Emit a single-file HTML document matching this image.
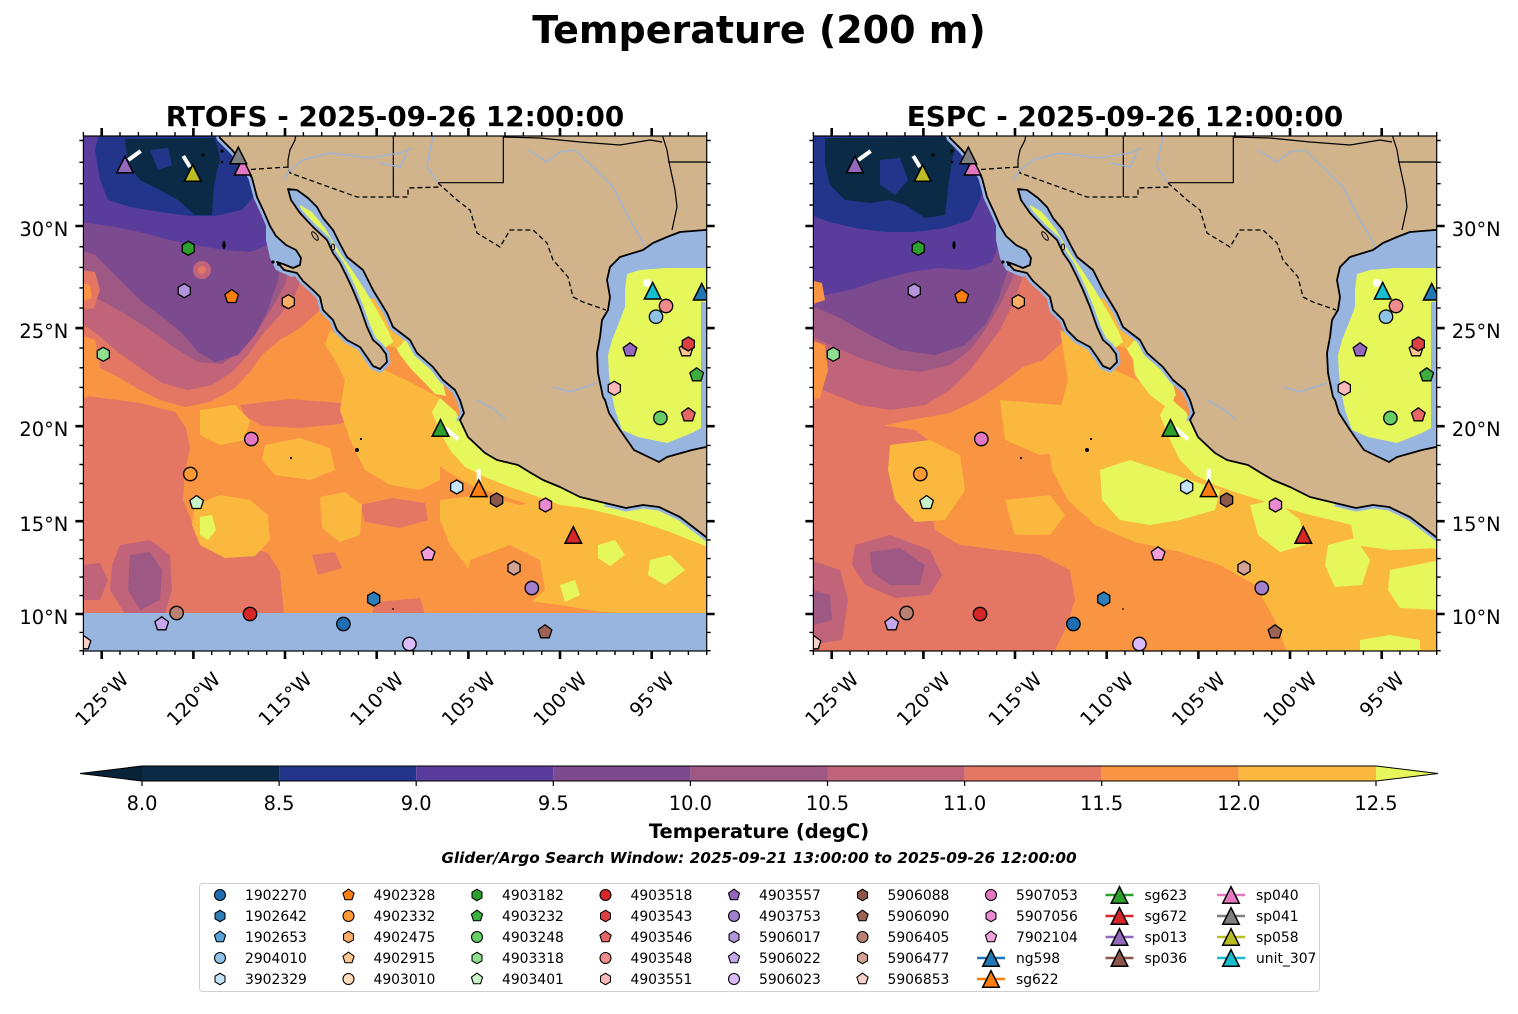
<!DOCTYPE html>
<html><head><meta charset="utf-8"><style>
html,body{margin:0;padding:0;background:#fff;}
svg{display:block;font-family:"DejaVu Sans","Liberation Sans",sans-serif;}
</style></head><body>
<svg width="1518" height="1014" viewBox="0 0 1518 1014" xmlns="http://www.w3.org/2000/svg">
<defs>
<clipPath id="cp"><rect x="83.4" y="136" width="623.3" height="515"/></clipPath>
<path id="mh" d="M0,-7 L6.06,-3.5 L6.06,3.5 L0,7 L-6.06,3.5 L-6.06,-3.5Z" stroke="#000" stroke-width="1.3"/>
<path id="mp" d="M0,-7.2 L6.85,-2.22 L4.23,5.82 L-4.23,5.82 L-6.85,-2.22Z" stroke="#000" stroke-width="1.3" stroke-linejoin="round"/>
<circle id="mo" r="6.7" stroke="#000" stroke-width="1.3"/>
<path id="mt" d="M0,-8.3 L8.3,8.3 L-8.3,8.3Z" stroke="#000" stroke-width="1.5"/>

<path id="landpath" d="M215,120 L220,138 L232,150 L243,163 L252,178 L257,197 L264,212 L270,226 L276,236 L286,245 L296,250 L301,258 L300,265 L293,268 L283,264 L277,262 L284,270 L297,273 L303,281 L313,290 L320,297 L323,310 L333,320 L337,330 L347,340 L360,347 L367,357 L373,366 L380,369 L387,362 L386,354 L380,346 L373,340 L367,327 L360,307 L353,290 L347,277 L340,263 L333,253 L327,240 L313,227 L300,213 L291,200 L288,189 L297,190 L308,198 L317,207 L323,218 L333,230 L340,244 L347,257 L363,270 L373,290 L387,313 L393,327 L410,340 L417,353 L433,367 L443,380 L455,390 L460,400 L464,413 L460,420 L468,437 L485,453 L497,460 L518,465 L531,473 L543,480 L560,487 L580,497 L605,503 L626,508 L643,505 L659,507 L680,517 L697,530 L706,537 L725,548 L725,120 Z"/>

<g id="landg">
 <path d="M282,183 L302,183 L325,205 L345,235 L365,262 L385,290 L398,312 L405,325 L392,332 L378,335 L365,320 L350,300 L335,275 L320,250 L305,225 L288,205 Z" fill="#98b5e0"/>
 <path d="M360,300 L375,298 L392,325 L405,340 L398,348 L385,345 L372,332 L362,315 Z" fill="#fab93e"/>
 <path d="M300,205 L312,212 L325,228 L338,250 L352,270 L365,290 L378,312 L388,330 L393,342 L385,348 L375,340 L365,322 L355,303 L345,283 L335,265 L322,245 L310,225 L300,212 Z" fill="#e5f75b"/>
 <path d="M266,224 L282,228 L297,244 L306,258 L306,272 L292,277 L276,270 L270,258 L266,240 Z" fill="#98b5e0"/>
 <use href="#landpath" fill="none" stroke="#98b5e0" stroke-width="7" stroke-linejoin="round"/>
 <path d="M460,420 L468,437 L485,453 L497,460 L518,465 L531,473 L543,480 L560,487 L580,497 L605,503" fill="none" stroke="#e5f75b" stroke-width="8"/>
 <use href="#landpath" fill="#d2b48c" stroke="#000" stroke-width="1.8" stroke-linejoin="round"/>
 <!-- Gulf of Mexico -->
 <path d="M725,228 L705,230 L680,232 L667,237 L653,243 L643,250 L633,253 L620,257 L610,267 L607,280 L610,297 L608,310 L602,320 L600,337 L597,353 L598,373 L603,397 L605,400 L609,413 L620,430 L634,450 L659,462 L667,457 L692,450 L706,447 L725,447 Z" fill="#98b5e0" stroke="#000" stroke-width="1.8" stroke-linejoin="round"/>
 <path d="M725,268 L665,268 L640,270 L627,274 L625,290 L625,307 L618,325 L612,340 L608,355 L609,375 L612,395 L615,410 L622,430 L638,437 L667,443 L692,433 L701,428 L701,302 L725,302 Z" fill="#e5f75b"/>
 <!-- borders -->
 <path d="M243,170 L288,167 L290,173 L357,197 L408,197 L408,188 L440,187 M438,183 L457,200 L470,210 L477,233 L500,247 L510,230 L533,230 L547,243 L553,260 L568,277 L573,297 L583,302 L606,310" fill="none" stroke="#000" stroke-width="1.3" stroke-dasharray="5,3"/>
 <path d="M297,128 L295,140 L290,150 L288,160 L288,168 M393.3,128 L393.3,197 M503.3,128 L503.3,182.7 L438.3,182.7 M660,128 L667,150 L669,162 L675,190 L677,207 L672,230 M668,162 L725,162 M503,137 L540,138 L580,142 L620,145 L650,140 L662,142" fill="none" stroke="#000" stroke-width="1.2"/>
 <!-- rivers -->
 <path d="M283,180 L290,170 L303,160 L330,153 L370,158 L400,153 L412,148 M380,163 L400,167 L407,153 M433,136 L430,150 L427,167 L438,183 M528,150 L547,162 L560,152 L575,150 L593,167 L613,187 L630,220 L640,237 L645,247 M553,387 L570,392 L597,383 M477,400 L495,410 L506,420" fill="none" stroke="#9ab5de" stroke-width="1.3"/>
 <!-- islands -->
 <g fill="#000">
  <circle cx="203" cy="155" r="1.6"/><circle cx="222" cy="151" r="1.6"/><circle cx="222" cy="162" r="1.3"/>
  <ellipse cx="224" cy="245" rx="1.6" ry="4"/><circle cx="273" cy="262" r="1.6"/><circle cx="279" cy="264" r="2"/>
  <circle cx="361" cy="439" r="1.1"/><circle cx="357" cy="450" r="2"/><circle cx="291" cy="458" r="1.1"/><circle cx="393" cy="609" r="0.9"/>
 </g>
 <ellipse cx="315" cy="236" rx="2" ry="5" transform="rotate(-35 315 236)" fill="#d2b48c" stroke="#000" stroke-width="1"/>
 <ellipse cx="333" cy="247" rx="1.6" ry="3" fill="#d2b48c" stroke="#000" stroke-width="1"/>
</g>

<g id="marks">
 <path d="M128.3,160 L140.7,151 M183.3,156 L190,167 M445.5,428.3 L458,439.3 M478.7,469 L478.7,482" stroke="#fff" stroke-width="4" fill="none"/>
 <circle cx="647" cy="283" r="4" fill="#fff"/>
 <use href="#mo" x="251.3" y="439" fill="#e377c2"/>
 <use href="#mo" x="190.3" y="474" fill="#ff9933"/>
 <use href="#mo" x="531.8" y="588" fill="#a380cc"/>
 <use href="#mo" x="176.6" y="613" fill="#b98172"/>
 <use href="#mo" x="250" y="614" fill="#d62728"/>
 <use href="#mo" x="343.4" y="624" fill="#1f6fb0"/>
 <use href="#mo" x="409.4" y="644" fill="#dcbcf8"/>
 <use href="#mo" x="666" y="306" fill="#f08c8c"/>
 <use href="#mo" x="656" y="316.7" fill="#8fc3e6"/>
 <use href="#mo" x="660.4" y="418" fill="#66cc66"/>
 <use href="#mh" x="188.3" y="248.3" fill="#2ca02c"/>
 <use href="#mh" x="184.3" y="290.7" fill="#b494dc"/>
 <use href="#mh" x="288.3" y="301.7" fill="#ffad66"/>
 <use href="#mh" x="103.3" y="354.3" fill="#8fdf8f"/>
 <use href="#mh" x="456.7" y="487" fill="#c6e4f8"/>
 <use href="#mh" x="496.6" y="500" fill="#8c564b"/>
 <use href="#mh" x="545.5" y="505" fill="#ea8ad0"/>
 <use href="#mh" x="514" y="568" fill="#d4a292"/>
 <use href="#mh" x="373.7" y="599" fill="#2c7fb8"/>
 <use href="#mh" x="614.3" y="388.3" fill="#ffb8b8"/>
 <use href="#mp" x="231.7" y="296.7" fill="#ff7f0e"/>
 <use href="#mp" x="196.6" y="502.7" fill="#c9f5c9"/>
 <use href="#mp" x="428.1" y="554" fill="#f2a0dc"/>
 <use href="#mp" x="161.7" y="624" fill="#c7a7ec"/>
 <use href="#mp" x="545" y="632" fill="#9d6456"/>
 <use href="#mp" x="84" y="643" fill="#f8d0c8"/>
 <use href="#mp" x="630" y="350" fill="#9467bd"/>
 <use href="#mp" x="686" y="350" fill="#ffc591"/>
 <use href="#mh" x="688.3" y="344" fill="#dc4040"/>
 <use href="#mp" x="696.7" y="375" fill="#3dad3d"/>
 <use href="#mp" x="688.3" y="415" fill="#e86666"/>
 <use href="#mt" x="125" y="164.5" fill="#9467bd"/>
 <use href="#mt" x="192.7" y="173" fill="#bcbd22"/>
 <use href="#mt" x="242.7" y="166.7" fill="#e377c2"/>
 <use href="#mt" x="238.3" y="155.5" fill="#7f7f7f"/>
 <use href="#mt" x="440.5" y="428" fill="#2ca02c"/>
 <use href="#mt" x="478.7" y="488.3" fill="#ff7f0e"/>
 <use href="#mt" x="573.3" y="535" fill="#d62728"/>
 <use href="#mt" x="652.7" y="290.7" fill="#17becf"/>
 <use href="#mt" x="701.7" y="291.7" fill="#1f77b4"/>
</g>

<g id="axes">
 <rect x="83.4" y="136" width="623.3" height="515" fill="none" stroke="#000" stroke-width="1.2"/>
 <path fill="none" stroke="#000" stroke-width="1.4" d="M83.4,651v4M120,651v4M138.4,651v4M156.7,651v4M175,651v4M211.7,651v4M230,651v4M248.4,651v4M266.7,651v4M303.4,651v4M321.7,651v4M340,651v4M358.4,651v4M395,651v4M413.4,651v4M431.7,651v4M450,651v4M486.7,651v4M505,651v4M523.4,651v4M541.7,651v4M578.4,651v4M596.7,651v4M615,651v4M633.4,651v4M670,651v4M688.4,651v4M706.7,651v4
 M83.4,136v-4M120,136v-4M138.4,136v-4M156.7,136v-4M175,136v-4M211.7,136v-4M230,136v-4M248.4,136v-4M266.7,136v-4M303.4,136v-4M321.7,136v-4M340,136v-4M358.4,136v-4M395,136v-4M413.4,136v-4M431.7,136v-4M450,136v-4M486.7,136v-4M505,136v-4M523.4,136v-4M541.7,136v-4M578.4,136v-4M596.7,136v-4M615,136v-4M633.4,136v-4M670,136v-4M688.4,136v-4M706.7,136v-4
 M83.4,650.7h-4M83.4,632.4h-4M83.4,595.6h-4M83.4,577.1h-4M83.4,558.6h-4M83.4,539.9h-4M83.4,502.4h-4M83.4,483.5h-4M83.4,464.5h-4M83.4,445.4h-4M83.4,406.9h-4M83.4,387.4h-4M83.4,367.8h-4M83.4,348.1h-4M83.4,308.1h-4M83.4,287.9h-4M83.4,267.4h-4M83.4,246.8h-4M83.4,205h-4M83.4,183.7h-4M83.4,162.3h-4M83.4,140.5h-4
 M706.7,650.7h4M706.7,632.4h4M706.7,595.6h4M706.7,577.1h4M706.7,558.6h4M706.7,539.9h4M706.7,502.4h4M706.7,483.5h4M706.7,464.5h4M706.7,445.4h4M706.7,406.9h4M706.7,387.4h4M706.7,367.8h4M706.7,348.1h4M706.7,308.1h4M706.7,287.9h4M706.7,267.4h4M706.7,246.8h4M706.7,205h4M706.7,183.7h4M706.7,162.3h4M706.7,140.5h4"/>
 <path fill="none" stroke="#000" stroke-width="2.6" d="M101.7,651v8M193.4,651v8M285,651v8M376.7,651v8M468.4,651v8M560,651v8M651.7,651v8
 M101.7,136v-8M193.4,136v-8M285,136v-8M376.7,136v-8M468.4,136v-8M560,136v-8M651.7,136v-8
 M83.4,614h-8M83.4,521.2h-8M83.4,426.2h-8M83.4,328.1h-8M83.4,226h-8
 M706.7,614h8M706.7,521.2h8M706.7,426.2h8M706.7,328.1h8M706.7,226h8"/>
 <g font-size="19.4" fill="#000" text-anchor="middle">
  <text transform="translate(101.7,699) rotate(-45)" dy="0.35em">125°W</text>
  <text transform="translate(193.4,699) rotate(-45)" dy="0.35em">120°W</text>
  <text transform="translate(285,699) rotate(-45)" dy="0.35em">115°W</text>
  <text transform="translate(376.7,699) rotate(-45)" dy="0.35em">110°W</text>
  <text transform="translate(468.4,699) rotate(-45)" dy="0.35em">105°W</text>
  <text transform="translate(560,699) rotate(-45)" dy="0.35em">100°W</text>
  <text transform="translate(651.7,694.5) rotate(-45)" dy="0.35em">95°W</text>
 </g>
</g>
</defs>

<rect width="1518" height="1014" fill="#fff"/>

<!-- LEFT PANEL: RTOFS -->
<g clip-path="url(#cp)">
 <rect x="80" y="130" width="640" height="530" fill="#f99442"/>
 <path fill="#e47763" d="M80,130 L340,130 L340,285 L318,312 L300,328 L280,340 L262,355 L250,372 L235,388 L210,402 L185,407 L160,400 L140,390 L120,378 L100,368 L80,362 Z"/>
 <path fill="#e47763" d="M80,395 L140,403 L175,412 L186,428 L190,448 L185,472 L183,500 L192,522 L210,537 L245,546 L268,553 L280,572 L284,614 L80,614 Z"/>
 <path fill="#e47763" d="M240,405 L290,399 L340,403 L362,412 L340,424 L300,428 L262,426 L245,416 Z M360,505 L392,498 L425,503 L428,520 L400,528 L365,522 Z M312,555 L335,552 L342,568 L318,575 Z M375,602 L420,598 L425,614 L372,614 Z"/>
 <path fill="#c1647a" d="M80,130 L305,130 L305,270 L295,295 L280,315 L262,335 L248,355 L232,372 L212,385 L188,390 L162,383 L140,368 L118,352 L98,335 L80,322 Z"/>
 <path fill="#9d5883" d="M80,130 L292,130 L292,255 L285,285 L272,308 L258,330 L242,350 L222,364 L198,362 L175,348 L150,330 L122,312 L100,300 L80,292 Z"/>
 <path fill="#7b4a8f" d="M80,130 L282,130 L282,250 L278,280 L268,310 L255,335 L238,355 L215,362 L198,352 L182,333 L160,315 L140,300 L125,285 L110,270 L95,255 L80,250 Z"/>
 <circle cx="202" cy="270" r="9" fill="#c1647a"/><circle cx="202" cy="270" r="4" fill="#e47763"/>
 <path fill="#593c9b" d="M80,130 L275,130 L272,200 L268,245 L250,252 L225,250 L200,246 L170,240 L140,232 L110,226 L80,222 Z"/>
 <path fill="#23358b" d="M100,130 L265,130 L262,165 L255,195 L242,210 L215,216 L190,216 L160,212 L130,207 L108,200 L100,180 L95,150 Z"/>
 <path fill="#0b2a45" d="M125,139 L215,138 L220,158 L214,185 L212,215 L195,215 L178,200 L160,190 L140,180 L128,165 Z"/>
 <path fill="#23358b" d="M150,150 L168,148 L172,165 L158,170 Z"/>
 <path fill="#e47763" d="M80,270 L95,272 L100,290 L94,308 L80,310 Z"/>
 <path fill="#f99442" d="M80,282 L90,285 L92,298 L80,302 Z M80,335 L95,340 L100,365 L92,395 L80,400 Z"/>
 <path fill="#c1647a" d="M120,545 L150,540 L170,555 L172,590 L165,614 L125,614 L110,590 L112,565 Z M80,565 L100,563 L108,580 L100,600 L80,600 Z"/>
 <path fill="#9d5883" d="M130,555 L150,552 L162,570 L160,600 L140,610 L128,590 Z"/>
 <path fill="#fab93e" d="M200,410 L235,405 L250,420 L245,440 L220,445 L200,435 Z M265,445 L300,438 L330,448 L335,470 L310,480 L275,475 L262,460 Z M320,497 L345,492 L362,505 L360,535 L340,542 L322,528 Z M195,505 L220,495 L250,500 L268,515 L270,540 L255,556 L225,558 L200,545 L192,525 Z"/>
 <path fill="#fab93e" d="M330,330 L360,345 L385,370 L410,382 L440,398 L458,420 L468,442 L482,458 L505,468 L540,478 L580,494 L620,504 L660,510 L706,525 L706,560 L680,555 L650,545 L620,535 L590,525 L560,515 L530,505 L500,495 L470,485 L445,470 L425,455 L410,440 L395,420 L378,405 L360,395 L345,380 L335,360 L325,345 Z"/>
 <path fill="#fab93e" d="M345,380 L380,400 L420,420 L440,445 L440,480 L420,490 L390,485 L365,470 L350,440 L340,410 Z"/>
 <path fill="#fab93e" d="M440,500 L480,495 L520,505 L560,500 L600,510 L640,520 L710,530 L710,614 L650,614 L600,612 L560,605 L520,600 L490,590 L470,570 L450,545 L440,520 Z"/>
 <path fill="#f99442" d="M470,560 L510,545 L540,560 L545,590 L520,612 L480,612 L465,590 Z"/>
 <path fill="#e5f75b" d="M440,398 L456,412 L462,426 L470,440 L482,452 L500,462 L525,468 L550,478 L575,490 L605,500 L640,507 L665,508 L710,528 L710,548 L670,532 L640,522 L610,514 L580,507 L555,502 L530,494 L505,485 L485,477 L465,467 L450,450 L440,432 L432,412 Z"/>
 <path fill="#e5f75b" d="M395,330 L410,340 L420,352 L432,366 L442,380 L446,396 L435,394 L424,382 L412,370 L400,355 L392,340 Z M200,517 L212,515 L216,530 L208,540 L200,535 Z M598,545 L615,540 L625,555 L610,566 L598,558 Z M650,560 L670,555 L685,570 L665,585 L648,575 Z M560,585 L575,580 L580,595 L565,602 Z M534,483 L570,487 L614,500 L600,510 L560,505 L534,495 Z"/>
 <rect x="80" y="613" width="640" height="45" fill="#98b5e0"/>
 <use href="#landg"/>
 <use href="#marks"/>
</g>
<use href="#axes"/>

<!-- RIGHT PANEL: ESPC -->
<g transform="translate(730,0)">
<g clip-path="url(#cp)">
 <rect x="80" y="130" width="640" height="530" fill="#f99442"/>
 <path fill="#e47763" d="M80,130 L340,130 L340,335 L313,360 L293,367 L267,387 L247,400 L220,413 L180,420 L147,427 L113,420 L80,405 Z"/>
 <path fill="#e47763" d="M80,405 L150,425 L185,430 L205,445 L210,470 L200,500 L205,530 L230,545 L270,550 L310,555 L340,570 L345,600 L335,630 L320,660 L80,660 Z"/>
 <path fill="#c1647a" d="M80,130 L300,130 L300,255 L290,285 L280,310 L270,330 L255,350 L240,370 L220,390 L195,405 L160,410 L130,405 L105,395 L80,385 Z"/>
 <path fill="#9d5883" d="M80,130 L290,130 L290,250 L282,280 L270,305 L255,330 L240,350 L220,365 L190,372 L160,368 L130,358 L100,345 L80,335 Z"/>
 <path fill="#7b4a8f" d="M80,130 L285,130 L285,240 L278,270 L268,300 L255,325 L235,345 L205,355 L170,350 L140,335 L110,318 L80,305 Z"/>
 <path fill="#593c9b" d="M80,130 L275,130 L275,200 L270,240 L262,262 L240,270 L210,268 L180,272 L150,280 L120,290 L95,295 L80,292 Z"/>
 <path fill="#23358b" d="M80,130 L262,130 L258,170 L250,200 L240,220 L215,228 L185,232 L155,232 L125,228 L100,222 L80,215 Z"/>
 <path fill="#0b2a45" d="M95,138 L228,137 L222,160 L218,190 L215,215 L195,218 L175,205 L160,200 L140,203 L115,200 L100,185 L95,165 Z"/>
 <path fill="#23358b" d="M150,160 L170,158 L178,180 L165,195 L150,185 Z"/>
 <path fill="#f99442" d="M80,280 L92,283 L95,300 L80,305 Z M80,340 L95,345 L98,370 L90,398 L80,400 Z"/>
 <path fill="#c1647a" d="M125,545 L160,535 L200,550 L212,575 L200,595 L165,598 L135,585 L122,565 Z M80,560 L110,570 L118,600 L112,640 L80,645 Z"/>
 <path fill="#9d5883" d="M140,552 L170,548 L195,565 L190,585 L160,585 L142,572 Z M82,590 L100,595 L102,620 L84,625 Z"/>
 <path fill="#fab93e" d="M160,445 L200,440 L230,455 L235,490 L215,520 L185,522 L165,500 L158,470 Z M270,400 L330,405 L360,420 L350,450 L310,455 L275,440 Z M275,500 L320,495 L335,515 L320,535 L285,535 Z"/>
 <path fill="#fab93e" d="M330,330 L360,345 L385,370 L410,382 L440,398 L458,420 L470,440 L500,455 L550,470 L600,490 L650,505 L710,520 L710,660 L560,660 L545,620 L525,585 L490,565 L450,552 L405,542 L365,525 L338,500 L322,470 L318,440 L330,410 L338,380 Z"/>
 <path fill="#e5f75b" d="M440,398 L456,412 L462,426 L470,440 L482,452 L500,462 L525,468 L550,478 L575,490 L605,500 L640,507 L665,508 L710,528 L710,550 L670,540 L640,530 L610,522 L580,515 L555,508 L530,500 L505,492 L485,485 L465,475 L450,460 L440,440 L430,415 Z"/>
 <path fill="#e5f75b" d="M370,470 L400,460 L430,470 L460,480 L490,490 L485,510 L450,520 L420,525 L390,520 L372,500 Z M520,505 L545,500 L570,520 L575,545 L550,552 L528,535 Z M598,545 L625,538 L640,560 L632,585 L605,587 L595,565 Z M660,570 L710,560 L710,610 L670,608 L658,590 Z M620,520 L660,515 L710,525 L710,548 L660,550 L625,545 Z M630,640 L660,635 L690,640 L690,660 L630,660 Z M395,330 L410,340 L420,352 L432,366 L442,380 L446,396 L435,394 L424,382 L412,370 L400,355 L392,340 Z M400,340 L430,365 L445,395 L440,410 L420,395 L405,375 Z"/>
 <use href="#landg"/>
 <use href="#marks"/>
</g>
<use href="#axes"/>
</g>

<!-- Latitude labels -->
<g font-size="19.4" fill="#000">
 <g text-anchor="end">
  <text x="68.3" y="236">30°N</text><text x="68.3" y="338.1">25°N</text><text x="68.3" y="436.2">20°N</text><text x="68.3" y="531.2">15°N</text><text x="68.3" y="624">10°N</text>
 </g>
 <g text-anchor="start">
  <text x="1451.8" y="236">30°N</text><text x="1451.8" y="338.1">25°N</text><text x="1451.8" y="436.2">20°N</text><text x="1451.8" y="531.2">15°N</text><text x="1451.8" y="624">10°N</text>
 </g>
</g>

<!-- Titles -->
<text x="759" y="43" font-size="38" font-weight="bold" text-anchor="middle">Temperature (200 m)</text>
<text x="395" y="126" font-size="27.8" font-weight="bold" text-anchor="middle">RTOFS - 2025-09-26 12:00:00</text>
<text x="1125" y="126" font-size="27.8" font-weight="bold" text-anchor="middle">ESPC - 2025-09-26 12:00:00</text>

<!-- Colorbar -->
<g>
 <path d="M142,766 L80,773.5 L142,781 Z" fill="#082338"/>
 <rect x="142" y="766" width="137.1" height="15" fill="#0b2a45"/>
 <rect x="279.1" y="766" width="137.1" height="15" fill="#23358b"/>
 <rect x="416.2" y="766" width="137.1" height="15" fill="#593c9b"/>
 <rect x="553.3" y="766" width="137.1" height="15" fill="#7b4a8f"/>
 <rect x="690.4" y="766" width="137.1" height="15" fill="#9d5883"/>
 <rect x="827.5" y="766" width="137.1" height="15" fill="#c1647a"/>
 <rect x="964.6" y="766" width="137.1" height="15" fill="#e47763"/>
 <rect x="1101.7" y="766" width="137.1" height="15" fill="#f99442"/>
 <rect x="1238.8" y="766" width="137.2" height="15" fill="#fab93e"/>
 <path d="M1376,766 L1438,773.5 L1376,781 Z" fill="#e5f75b"/>
 <path d="M142,766 L80,773.5 L142,781 L1376,781 L1438,773.5 L1376,766 Z" fill="none" stroke="#000" stroke-width="1"/>
 <path d="M142,781v5M279.1,781v5M416.2,781v5M553.3,781v5M690.4,781v5M827.5,781v5M964.6,781v5M1101.7,781v5M1238.8,781v5M1376,781v5" stroke="#000" stroke-width="1.2"/>
 <g font-size="19.4" text-anchor="middle">
  <text x="142" y="810">8.0</text><text x="279.1" y="810">8.5</text><text x="416.2" y="810">9.0</text><text x="553.3" y="810">9.5</text><text x="690.4" y="810">10.0</text><text x="827.5" y="810">10.5</text><text x="964.6" y="810">11.0</text><text x="1101.7" y="810">11.5</text><text x="1238.8" y="810">12.0</text><text x="1376" y="810">12.5</text>
 </g>
 <text x="759" y="838" font-size="19.5" font-weight="bold" text-anchor="middle">Temperature (degC)</text>
 <text x="759" y="863" font-size="15.3" font-weight="bold" font-style="italic" text-anchor="middle">Glider/Argo Search Window: 2025-09-21 13:00:00 to 2025-09-26 12:00:00</text>
</g>

<!-- Legend -->
<rect x="199.5" y="883.5" width="1120" height="108" rx="3" fill="#fff" stroke="#d0d0d0" stroke-width="1"/>
<g font-size="13.9" fill="#000">
 <use href="#mo" transform="translate(220,895) scale(0.82)" fill="#1f6fb0"/><text x="245" y="900">1902270</text>
 <use href="#mh" transform="translate(220,916) scale(0.82)" fill="#2c7fb8"/><text x="245" y="921">1902642</text>
 <use href="#mp" transform="translate(220,937) scale(0.82)" fill="#5aa5d8"/><text x="245" y="942">1902653</text>
 <use href="#mo" transform="translate(220,958) scale(0.82)" fill="#8fc3e6"/><text x="245" y="963">2904010</text>
 <use href="#mh" transform="translate(220,979) scale(0.82)" fill="#c6e4f8"/><text x="245" y="984">3902329</text>

 <use href="#mp" transform="translate(348.5,895) scale(0.82)" fill="#ff7f0e"/><text x="373.5" y="900">4902328</text>
 <use href="#mo" transform="translate(348.5,916) scale(0.82)" fill="#ff9933"/><text x="373.5" y="921">4902332</text>
 <use href="#mh" transform="translate(348.5,937) scale(0.82)" fill="#ffad66"/><text x="373.5" y="942">4902475</text>
 <use href="#mp" transform="translate(348.5,958) scale(0.82)" fill="#ffc591"/><text x="373.5" y="963">4902915</text>
 <use href="#mo" transform="translate(348.5,979) scale(0.82)" fill="#ffdcbc"/><text x="373.5" y="984">4903010</text>

 <use href="#mh" transform="translate(477,895) scale(0.82)" fill="#2ca02c"/><text x="502" y="900">4903182</text>
 <use href="#mp" transform="translate(477,916) scale(0.82)" fill="#3dad3d"/><text x="502" y="921">4903232</text>
 <use href="#mo" transform="translate(477,937) scale(0.82)" fill="#66cc66"/><text x="502" y="942">4903248</text>
 <use href="#mh" transform="translate(477,958) scale(0.82)" fill="#8fdf8f"/><text x="502" y="963">4903318</text>
 <use href="#mp" transform="translate(477,979) scale(0.82)" fill="#c9f5c9"/><text x="502" y="984">4903401</text>

 <use href="#mo" transform="translate(605.5,895) scale(0.82)" fill="#d62728"/><text x="630.5" y="900">4903518</text>
 <use href="#mh" transform="translate(605.5,916) scale(0.82)" fill="#dc4040"/><text x="630.5" y="921">4903543</text>
 <use href="#mp" transform="translate(605.5,937) scale(0.82)" fill="#e86666"/><text x="630.5" y="942">4903546</text>
 <use href="#mo" transform="translate(605.5,958) scale(0.82)" fill="#f08c8c"/><text x="630.5" y="963">4903548</text>
 <use href="#mh" transform="translate(605.5,979) scale(0.82)" fill="#ffb8b8"/><text x="630.5" y="984">4903551</text>

 <use href="#mp" transform="translate(734,895) scale(0.82)" fill="#9467bd"/><text x="759" y="900">4903557</text>
 <use href="#mo" transform="translate(734,916) scale(0.82)" fill="#a380cc"/><text x="759" y="921">4903753</text>
 <use href="#mh" transform="translate(734,937) scale(0.82)" fill="#b494dc"/><text x="759" y="942">5906017</text>
 <use href="#mp" transform="translate(734,958) scale(0.82)" fill="#c7a7ec"/><text x="759" y="963">5906022</text>
 <use href="#mo" transform="translate(734,979) scale(0.82)" fill="#dcbcf8"/><text x="759" y="984">5906023</text>

 <use href="#mh" transform="translate(862.5,895) scale(0.82)" fill="#8c564b"/><text x="887.5" y="900">5906088</text>
 <use href="#mp" transform="translate(862.5,916) scale(0.82)" fill="#9d6456"/><text x="887.5" y="921">5906090</text>
 <use href="#mo" transform="translate(862.5,937) scale(0.82)" fill="#b98172"/><text x="887.5" y="942">5906405</text>
 <use href="#mh" transform="translate(862.5,958) scale(0.82)" fill="#d4a292"/><text x="887.5" y="963">5906477</text>
 <use href="#mp" transform="translate(862.5,979) scale(0.82)" fill="#f8d0c8"/><text x="887.5" y="984">5906853</text>

 <use href="#mo" transform="translate(991,895) scale(0.82)" fill="#e377c2"/><text x="1016" y="900">5907053</text>
 <use href="#mh" transform="translate(991,916) scale(0.82)" fill="#ea8ad0"/><text x="1016" y="921">5907056</text>
 <use href="#mp" transform="translate(991,937) scale(0.82)" fill="#f2a0dc"/><text x="1016" y="942">7902104</text>
 <path d="M977,958h28" stroke="#1f77b4" stroke-width="2.5"/><use href="#mt" x="991" y="958" fill="#1f77b4"/><text x="1016" y="963">ng598</text>
 <path d="M977,979h28" stroke="#ff7f0e" stroke-width="2.5"/><use href="#mt" x="991" y="979" fill="#ff7f0e"/><text x="1016" y="984">sg622</text>

 <path d="M1105.5,895h28" stroke="#2ca02c" stroke-width="2.5"/><use href="#mt" x="1119.5" y="895" fill="#2ca02c"/><text x="1144.5" y="900">sg623</text>
 <path d="M1105.5,916h28" stroke="#d62728" stroke-width="2.5"/><use href="#mt" x="1119.5" y="916" fill="#d62728"/><text x="1144.5" y="921">sg672</text>
 <path d="M1105.5,937h28" stroke="#9467bd" stroke-width="2.5"/><use href="#mt" x="1119.5" y="937" fill="#9467bd"/><text x="1144.5" y="942">sp013</text>
 <path d="M1105.5,958h28" stroke="#8c564b" stroke-width="2.5"/><use href="#mt" x="1119.5" y="958" fill="#8c564b"/><text x="1144.5" y="963">sp036</text>

 <path d="M1217,895h28" stroke="#e377c2" stroke-width="2.5"/><use href="#mt" x="1231" y="895" fill="#e377c2"/><text x="1256" y="900">sp040</text>
 <path d="M1217,916h28" stroke="#7f7f7f" stroke-width="2.5"/><use href="#mt" x="1231" y="916" fill="#7f7f7f"/><text x="1256" y="921">sp041</text>
 <path d="M1217,937h28" stroke="#bcbd22" stroke-width="2.5"/><use href="#mt" x="1231" y="937" fill="#bcbd22"/><text x="1256" y="942">sp058</text>
 <path d="M1217,958h28" stroke="#17becf" stroke-width="2.5"/><use href="#mt" x="1231" y="958" fill="#17becf"/><text x="1256" y="963">unit_307</text>
</g>
</svg>
</body></html>
